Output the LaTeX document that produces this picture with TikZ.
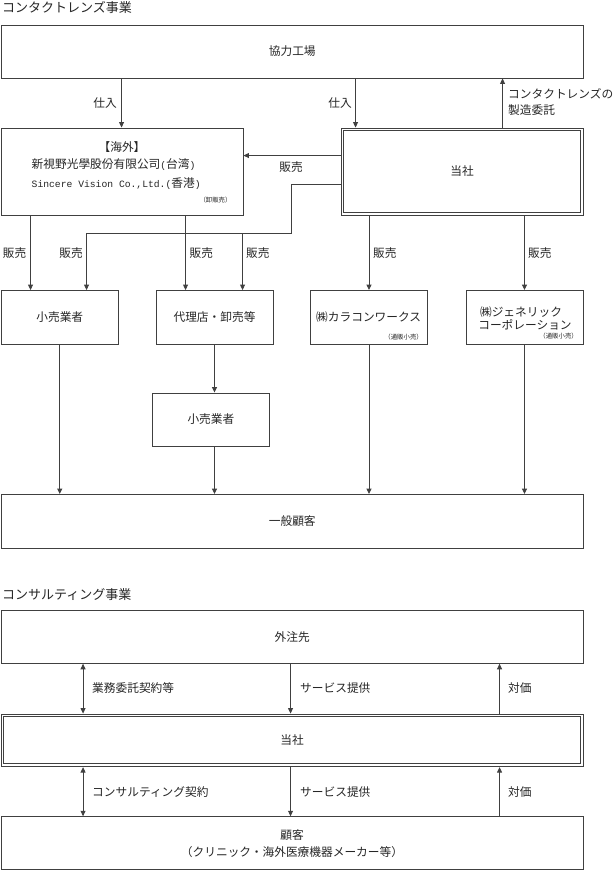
\documentclass[tikz,border=0pt]{standalone}
\usepackage{fontspec}
\setmainfont{Noto Sans CJK JP}
\newfontfamily\latinmono{Liberation Mono}
\usetikzlibrary{arrows.meta}
\newcommand\jpfont{\fontsize{11.7}{13.5}\selectfont}
\newcommand\headfont{\fontsize{13}{15}\selectfont}
\newcommand\smallfont{\fontsize{6.4}{7.5}\selectfont}
\newcommand\halfw[1]{{\latinmono\fontsize{9.7}{11}\selectfont #1}}
\begin{document}
\begin{tikzpicture}[x=1pt,y=-1pt,
  lc/.style={draw=black!75, line width=0.9pt},
  box/.style={lc, rectangle, inner sep=0pt, font=\jpfont, text=black!85},
  txt/.style={inner sep=0pt, font=\jpfont, text=black!85},
  smalltxt/.style={inner sep=0pt, font=\smallfont, text=black!85},
  arr/.style={lc, -{Triangle[length=5.5pt,width=5pt]}},
  darr/.style={lc, {Triangle[length=5.5pt,width=5pt]}-{Triangle[length=5.5pt,width=5pt]}}]
\useasboundingbox (0,0) rectangle (615,870);
\fill[white] (0,0) rectangle (615,870);

% ---------- contact lens business ----------
\node[inner sep=0pt, anchor=west, font=\headfont, text=black!85] (h1) at (2,8) {コンタクトレンズ事業};

\node[box, minimum width=581.5pt, minimum height=53pt] (factory) at (292.25,51.5) {協力工場};
\node[box, minimum width=241.5pt, minimum height=87pt] (overseas) at (122.25,171.5) {};
\node[box, minimum width=242pt, minimum height=87pt] (tosha) at (462,171.5) {当社};
\draw[lc] ([xshift=3.3pt,yshift=-3.3pt]tosha.north west) rectangle ([xshift=-3.3pt,yshift=3.3pt]tosha.south east);

\node[txt] (ovh) at (122,146.7) {【海外】};
\node[txt, anchor=west] (ov1) at (31.5,165) {新視野光學股份有限公司\halfw{(}台湾\halfw{)}};
\node[txt, anchor=west] (ov2) at (31.5,183.3) {\halfw{Sincere Vision Co.,Ltd.(}香港\halfw{)}};
\node[smalltxt, anchor=east] (ov3) at (231.7,200) {（卸販売）};

\node[box, minimum width=116.5pt, minimum height=53.5pt] (retail1) at (59.75,317.25) {小売業者};
\node[box, minimum width=117pt, minimum height=53.5pt] (agent) at (214.5,317.25) {代理店・卸売等};
\node[box, minimum width=117pt, minimum height=53.5pt] (karacon) at (369,317.25) {};
\node[box, minimum width=117pt, minimum height=53.5pt] (generic) at (524.5,317.25) {};
\node[txt] (k1) at (368.7,317.3) {㈱カラコンワークス};
\node[smalltxt, anchor=east] (k2) at (423,336.7) {（通販小売）};
\node[txt] (g1) at (521,311.7) {㈱ジェネリック};
\node[txt] (g2) at (525,325.3) {コーポレーション};
\node[smalltxt, anchor=east] (g3) at (578,336.2) {（通販小売）};

\node[box, minimum width=117.2pt, minimum height=53pt] (retail2) at (210.9,419.5) {小売業者};
\node[box, minimum width=581.5pt, minimum height=53.5pt] (general) at (292.25,521.25) {一般顧客};

% arrows
\coordinate (p1) at ([xshift=120.5pt]factory.south west);
\draw[arr] (p1) -- (p1 |- overseas.north);
\coordinate (p2) at ([xshift=354.5pt]factory.south west);
\draw[arr] (p2) -- (p2 |- tosha.north);
\coordinate (p3) at ([xshift=162pt]tosha.north west);
\draw[arr] (p3) -- (p3 |- factory.south);
\coordinate (p4) at ([yshift=-28pt]tosha.north west);
\draw[arr] (p4) -- (p4 -| overseas.east);
\coordinate (p5) at ([yshift=-57pt]tosha.north west);
\coordinate (b1) at (291,233);
\coordinate (t1) at ([xshift=85.5pt]retail1.north west);
\draw[arr] (p5) -| (b1) -| (t1);
\coordinate (t2) at ([xshift=87pt]agent.north west);
\draw[arr] (b1 -| t2) -- (t2);
\coordinate (p6) at ([xshift=29.5pt]overseas.south west);
\draw[arr] (p6) -- (p6 |- retail1.north);
\coordinate (p7) at ([xshift=184.5pt]overseas.south west);
\draw[arr] (p7) -- (p7 |- agent.north);
\draw[arr] (karacon.north |- tosha.south) -- (karacon.north);
\draw[arr] (generic.north |- tosha.south) -- (generic.north);
\draw[arr] (retail1.south) -- (retail1.south |- general.north);
\draw[arr] (agent.south) -- (agent.south |- retail2.north);
\draw[arr] (agent.south |- retail2.south) -- (agent.south |- general.north);
\draw[arr] (karacon.south) -- (karacon.south |- general.north);
\draw[arr] (generic.south) -- (generic.south |- general.north);

% labels
\node[txt] (l1) at (105,103) {仕入};
\node[txt] (l2) at (340,103) {仕入};
\node[txt, anchor=west] (l3) at (508,93.3) {コンタクトレンズの};
\node[txt, anchor=west] (l4) at (508,110.5) {製造委託};
\node[txt] (l5) at (291,167) {販売};
\node[txt, anchor=east] (s1) at (26.5,253) {販売};
\node[txt, anchor=east] (s2) at (83,253) {販売};
\node[txt, anchor=west] (s3) at (189.5,253) {販売};
\node[txt, anchor=west] (s4) at (246,253) {販売};
\node[txt, anchor=west] (s5) at (373,253) {販売};
\node[txt, anchor=west] (s6) at (528,253) {販売};

% ---------- consulting business ----------
\node[inner sep=0pt, anchor=west, font=\headfont, text=black!85] (h2) at (2,595) {コンサルティング事業};

\node[box, minimum width=581.5pt, minimum height=52.6pt] (outsrc) at (292.25,637) {外注先};
\node[box, minimum width=582pt, minimum height=52.7pt] (tosha2) at (292,740.35) {当社};
\draw[lc] ([xshift=3.3pt,yshift=-3.3pt]tosha2.north west) rectangle ([xshift=-3.3pt,yshift=3.3pt]tosha2.south east);
\node[box, minimum width=581.5pt, minimum height=52.3pt] (client) at (292.25,842.85) {};
\node[txt] (c1) at (292,835) {顧客};
\node[txt] (c2) at (292,851.7) {（クリニック・海外医療機器メーカー等）};

\coordinate (q1) at ([xshift=82pt]outsrc.south west);
\coordinate (q2) at ([xshift=289.5pt]outsrc.south west);
\coordinate (q3) at ([xshift=498.5pt]outsrc.south west);
\draw[darr] (q1) -- (q1 |- tosha2.north);
\draw[arr] (q2) -- (q2 |- tosha2.north);
\draw[arr] (q3 |- tosha2.north) -- (q3);
\draw[darr] (q1 |- tosha2.south) -- (q1 |- client.north);
\draw[arr] (q2 |- tosha2.south) -- (q2 |- client.north);
\draw[arr] (q3 |- client.north) -- (q3 |- tosha2.south);

\node[txt, anchor=west] (m1) at (92,688) {業務委託契約等};
\node[txt, anchor=west] (m2) at (300,688) {サービス提供};
\node[txt, anchor=west] (m3) at (508,688) {対価};
\node[txt, anchor=west] (m4) at (92,791.7) {コンサルティング契約};
\node[txt, anchor=west] (m5) at (300,791.7) {サービス提供};
\node[txt, anchor=west] (m6) at (508,791.7) {対価};
\end{tikzpicture}
\end{document}
